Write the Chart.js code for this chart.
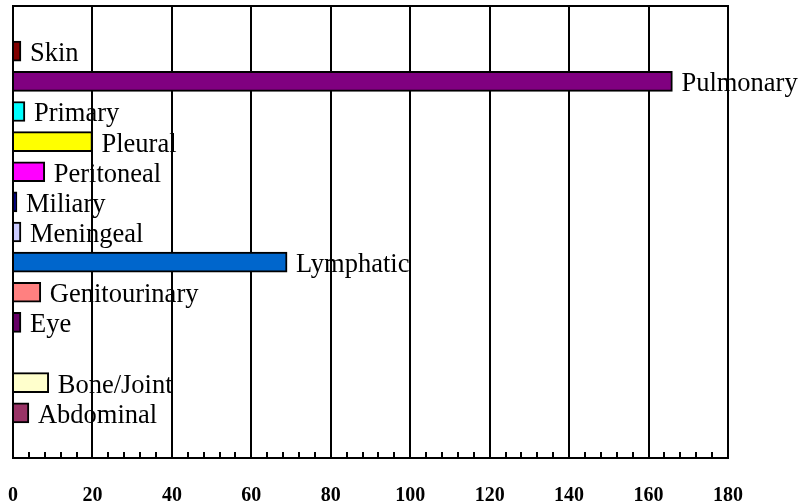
<!DOCTYPE html>
<html>
<head>
<meta charset="utf-8">
<script src="https://cdn.jsdelivr.net/npm/chart.js@4/dist/chart.umd.min.js"></script>
<style>
    html, body { margin: 0; padding: 0; background: #fff; overflow: hidden; }
    canvas { display: block; }
</style>
</head>
<body>
<canvas id="chart-tb" width="798" height="504"></canvas>
<script>
// blank slots keep the original spacing of the chart
const categories = ['', 'Skin', 'Pulmonary', 'Primary', 'Pleural', 'Peritoneal', 'Miliary',
    'Meningeal', 'Lymphatic', 'Genitourinary', 'Eye', '', 'Bone/Joint', 'Abdominal', ''];
const cases = [null, 2, 166, 3, 20, 8, 1, 2, 69, 7, 2, null, 9, 4, null];
const barColors = ['#000000', '#800000', '#800080', '#00FFFF', '#FFFF00', '#FF00FF', '#000080',
    '#CCCCFF', '#0066CC', '#FF8080', '#660066', '#000000', '#FFFFCC', '#993366', '#000000'];
const xTicks = [0, 20, 40, 60, 80, 100, 120, 140, 160, 180];
const minorStep = 4;

const serif = '"Liberation Serif", "Times New Roman", serif';

// bar names written to the right of each bar, plus frame top and inner minor ticks
const barLabels = {
    id: 'barLabels',
    afterDatasetsDraw(chart) {
        const ctx = chart.ctx;
        const meta = chart.getDatasetMeta(0);
        ctx.save();
        ctx.font = '26.5px ' + serif;
        ctx.fillStyle = '#000';
        ctx.textBaseline = 'middle';
        ctx.textAlign = 'left';
        meta.data.forEach(function (bar, i) {
            if (cases[i] === null) return;
            ctx.fillText(categories[i], bar.x + 9, bar.y + 3);
        });
        ctx.restore();
    },
    afterDraw(chart) {
        const ctx = chart.ctx;
        const area = chart.chartArea;
        const x = chart.scales.x;
        ctx.save();
        ctx.strokeStyle = '#000';
        ctx.lineWidth = 2;
        ctx.beginPath();
        ctx.moveTo(area.left - 1, area.top);
        ctx.lineTo(area.right + 1, area.top);
        for (let v = 0; v <= x.max; v += minorStep) {
            if (v % 20 === 0) continue;
            const px = Math.round(x.getPixelForValue(v));
            ctx.moveTo(px, area.bottom);
            ctx.lineTo(px, area.bottom - 6);
        }
        ctx.stroke();
        ctx.restore();
    }
};

new Chart(document.getElementById('chart-tb'), {
    type: 'bar',
    data: {
        labels: categories,
        datasets: [{
            label: 'Cases',
            data: cases,
            backgroundColor: barColors,
            borderColor: '#000',
            borderWidth: 2,
            barThickness: 20,
        }],
    },
    options: {
        indexAxis: 'y',
        responsive: false,
        animation: false,
        layout: {
            padding: { left: 13, right: 70, top: 6, bottom: -6 },
        },
        plugins: {
            legend: { display: false },
            tooltip: { enabled: false },
        },
        scales: {
            y: {
                display: false,
            },
            x: {
                min: 0,
                max: 180,
                afterBuildTicks: function (scale) {
                    scale.ticks = xTicks.map(v => ({ value: v }));
                },
                grid: {
                    color: '#000',
                    lineWidth: 2,
                    drawTicks: true,
                    tickLength: 24,
                    tickColor: 'rgba(0,0,0,0)',
                },
                border: {
                    display: true,
                    color: '#000',
                    width: 2,
                },
                ticks: {
                    color: '#000',
                    padding: 2,
                    maxRotation: 0,
                    font: { family: serif, size: 20, weight: 'bold' },
                },
            },
        },
    },
    plugins: [barLabels],
});
</script>
</body>
</html>
